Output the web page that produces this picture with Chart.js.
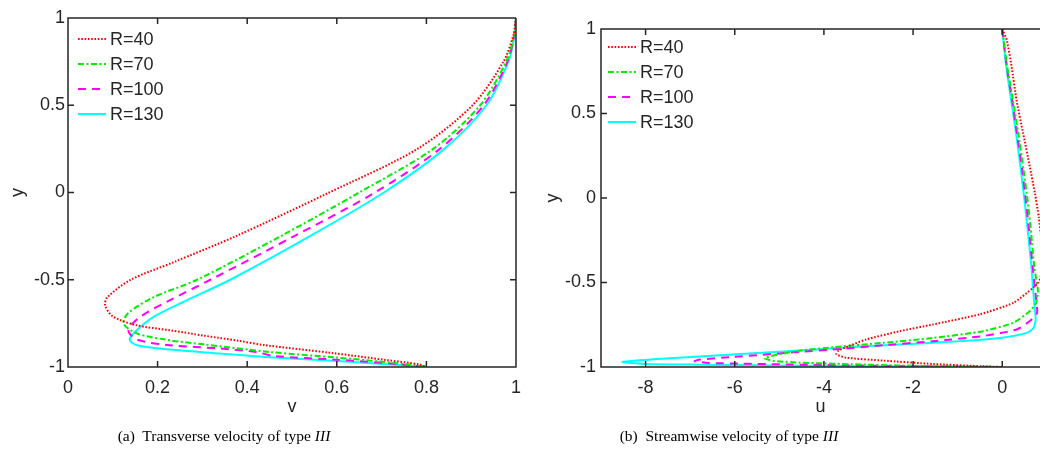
<!DOCTYPE html>
<html>
<head>
<meta charset="utf-8">
<script src="https://cdn.jsdelivr.net/npm/chart.js@4.4.1/dist/chart.umd.min.js"></script>
<style>
  body { margin: 0; background: #fff; width: 1040px; height: 463px; overflow: hidden; position: relative; }
  canvas { position: absolute; top: 0; }
  .cap { position: absolute; top: 427px; width: 440px; text-align: center; font-family: "Liberation Serif", "Times New Roman", serif; font-size: 15.5px; color: #000; white-space: pre; }
</style>
</head>
<body>
<canvas id="vchart" width="523" height="463" style="left:0"></canvas>
<canvas id="uchart" width="520" height="463" style="left:520px"></canvas>
<div class="cap" style="left:4px">(a)  Transverse velocity of type <i>III</i></div>
<div class="cap" style="left:509px">(b)  Streamwise velocity of type <i>III</i></div>
<script>
// series labels
const labels = ['R=40', 'R=70', 'R=100', 'R=130'];

// (a) transverse velocity v against y
const yR40a = [1, 0.9, 0.75, 0.5, 0.25, 0, -0.25, -0.4, -0.5, -0.6, -0.646, -0.71, -0.76, -0.79, -0.82, -0.85, -0.875, -0.92, -0.96, -0.985, -1];
const vR40 = [1, 0.994, 0.972, 0.903, 0.78, 0.583, 0.375, 0.235, 0.14, 0.088, 0.083, 0.1, 0.152, 0.228, 0.303, 0.38, 0.44, 0.59, 0.71, 0.785, 0.8];
const yR70a = [1, 0.9, 0.75, 0.5, 0.25, 0, -0.25, -0.5, -0.6, -0.69, -0.751, -0.808, -0.847, -0.87, -0.914, -0.946, -0.97, -0.99, -1];
const vR70 = [1, 0.996, 0.978, 0.92, 0.815, 0.65, 0.475, 0.288, 0.191, 0.135, 0.124, 0.154, 0.228, 0.303, 0.45, 0.6, 0.7, 0.775, 0.8];
const yR100a = [1, 0.9, 0.75, 0.5, 0.25, 0, -0.25, -0.5, -0.617, -0.713, -0.789, -0.843, -0.875, -0.894, -0.914, -0.937, -0.958, -0.98, -1];
const vR100 = [1, 0.996, 0.981, 0.928, 0.83, 0.685, 0.505, 0.318, 0.228, 0.161, 0.135, 0.154, 0.228, 0.34, 0.42, 0.46, 0.6, 0.72, 0.8];
const yR130a = [1, 0.9, 0.75, 0.5, 0.25, 0, -0.25, -0.5, -0.617, -0.713, -0.808, -0.847, -0.875, -0.9, -0.923, -0.943, -0.966, -0.985, -1];
const vR130 = [1, 0.997, 0.983, 0.934, 0.84, 0.705, 0.54, 0.362, 0.266, 0.191, 0.146, 0.138, 0.154, 0.228, 0.34, 0.44, 0.6, 0.72, 0.8];

// (b) streamwise velocity u against y
const yR40b = [1, 0.936, 0.778, 0.579, 0.382, 0.183, 0.025, -0.114, -0.25, -0.37, -0.47, -0.5, -0.53, -0.62, -0.688, -0.748, -0.788, -0.837, -0.877, -0.905, -0.925, -0.945, -0.962, -0.982, -0.996, -1];
const uR40 = [0, 0.1, 0.21, 0.32, 0.47, 0.62, 0.735, 0.82, 0.88, 0.9, 0.86, 0.81, 0.7, 0.25, -0.5, -1.55, -2.3, -3.05, -3.45, -3.68, -3.72, -3.5, -2.67, -1.55, -0.43, 0];
const yR70b = [1, 0.778, 0.58, 0.382, 0.183, -0.015, -0.213, -0.411, -0.55, -0.62, -0.669, -0.738, -0.788, -0.828, -0.857, -0.883, -0.904, -0.93, -0.948, -0.963, -0.974, -0.986, -0.995, -1];
const uR70 = [0, 0.11, 0.24, 0.36, 0.47, 0.57, 0.65, 0.72, 0.8, 0.76, 0.62, 0.25, -0.43, -1.55, -2.67, -3.8, -4.55, -5.1, -5.33, -5.15, -4.55, -3.05, -1.55, 0];
const yR100b = [1, 0.778, 0.58, 0.382, 0.183, -0.015, -0.213, -0.411, -0.6, -0.68, -0.728, -0.778, -0.817, -0.847, -0.871, -0.897, -0.911, -0.941, -0.956, -0.966, -0.976, -0.98, -0.986, -0.994, -1];
const uR100 = [0, 0.1, 0.22, 0.33, 0.44, 0.53, 0.61, 0.685, 0.76, 0.78, 0.62, 0.32, -0.43, -1.55, -2.67, -3.8, -4.55, -6.05, -6.79, -6.9, -6.57, -5.9, -4.55, -2.5, 0];
const yR130b = [1, 0.778, 0.58, 0.382, 0.183, -0.015, -0.213, -0.411, -0.6, -0.72, -0.77, -0.798, -0.828, -0.851, -0.867, -0.883, -0.903, -0.926, -0.95, -0.97, -0.982, -0.986, -0.992, -0.997, -1];
const uR130 = [0, 0.09, 0.2, 0.31, 0.41, 0.5, 0.58, 0.655, 0.71, 0.75, 0.7, 0.55, -0.05, -1.18, -2.3, -3.42, -4.55, -6.05, -7.54, -8.52, -7.99, -6.79, -4.55, -2.3, 0];

// tick labels
const vTicks = [0, 0.2, 0.4, 0.6, 0.8, 1];
const uTicks = [-8, -6, -4, -2, 0];
const yTicks = [-1, -0.5, 0, 0.5, 1];

const axisColor = '#262626';
const fontFamily = '"Liberation Sans", Arial, sans-serif';

const styles = [
  { color: '#ff0000', dash: [1.6, 1.7], width: 2 },
  { color: '#00ee00', dash: [6, 2.5, 2, 2.5], width: 2 },
  { color: '#ff00ff', dash: [8, 6], width: 2 },
  { color: '#00ffff', dash: [], width: 2 },
];

function toPoints(xs, ys) {
  return xs.map((x, i) => ({ x: x, y: ys[i] }));
}

function makeDatasets(series, tension) {
  return series.map((s, i) => ({
    label: labels[i],
    data: toPoints(s[0], s[1]),
    showLine: true,
    borderColor: styles[i].color,
    borderDash: styles[i].dash,
    borderWidth: styles[i].width,
    pointRadius: 0,
    tension: tension,
    fill: false,
  }));
}

// matlab-like box with inward ticks and a plain legend
const matlabBox = {
  id: 'matlabBox',
  afterDatasetsDraw(chart, args, opts) {
    const { ctx, chartArea: a, scales: { x, y } } = chart;
    const tl = 6;
    ctx.save();
    ctx.strokeStyle = axisColor;
    ctx.lineWidth = 1.5;
    ctx.setLineDash([]);
    ctx.beginPath();
    ctx.moveTo(a.right, a.top);
    ctx.lineTo(a.left, a.top);
    ctx.lineTo(a.left, a.bottom);
    ctx.lineTo(a.right, a.bottom);
    if (opts.rightEdge) ctx.lineTo(a.right, a.top);
    x.ticks.forEach(t => {
      const px = x.getPixelForValue(t.value);
      ctx.moveTo(px, a.bottom); ctx.lineTo(px, a.bottom - tl);
      ctx.moveTo(px, a.top); ctx.lineTo(px, a.top + tl);
    });
    y.ticks.forEach(t => {
      const py = y.getPixelForValue(t.value);
      ctx.moveTo(a.left, py); ctx.lineTo(a.left + tl, py);
      if (opts.rightEdge) { ctx.moveTo(a.right, py); ctx.lineTo(a.right - tl, py); }
    });
    ctx.stroke();

    // legend
    ctx.font = '18px ' + fontFamily;
    ctx.textBaseline = 'middle';
    ctx.fillStyle = axisColor;
    chart.data.datasets.forEach((ds, i) => {
      const ly = a.top + opts.legendTop + i * 25;
      const lx = a.left + opts.legendLeft;
      ctx.strokeStyle = ds.borderColor;
      ctx.lineWidth = ds.borderWidth;
      ctx.setLineDash(ds.borderDash);
      ctx.beginPath();
      ctx.moveTo(lx, ly);
      ctx.lineTo(lx + 28, ly);
      ctx.stroke();
      ctx.fillText(ds.label, lx + 32, ly + 1);
    });
    ctx.restore();
  }
};

function axisOpts(min, max, ticks, title, extra) {
  return Object.assign({
    type: 'linear',
    min: min,
    max: max,
    grid: { display: false },
    border: { display: false },
    afterBuildTicks: s => { s.ticks = ticks.map(v => ({ value: v })); },
    ticks: {
      color: axisColor,
      font: { family: fontFamily, size: 18 },
      callback: v => String(v),
    },
    title: {
      display: true,
      text: title,
      color: axisColor,
      font: { family: fontFamily, size: 18 },
    },
  }, extra);
}

function drawPanel(canvasId, series, xMin, xMax, xTicks, xTitle, cfg) {
  const xAxis = axisOpts(xMin, xMax, xTicks, xTitle, {
    afterFit: s => { s.height = cfg.xHeight; },
  });
  xAxis.ticks.padding = 2;
  xAxis.title.padding = { top: 0, bottom: 0 };
  const yAxis = axisOpts(-1, 1, yTicks, 'y', {
    afterFit: s => { s.width = cfg.yWidth; },
  });
  yAxis.grid = { display: false, drawTicks: false };
  yAxis.ticks.padding = cfg.yPad;
  yAxis.title.padding = { top: cfg.yTitlePad, bottom: 0 };

  return new Chart(document.getElementById(canvasId), {
    type: 'scatter',
    data: { datasets: makeDatasets(series, cfg.tension) },
    options: {
      responsive: false,
      animation: false,
      layout: { padding: cfg.padding },
      plugins: {
        legend: { display: false },
        tooltip: { enabled: false },
        matlabBox: { rightEdge: cfg.rightEdge, legendLeft: cfg.legendLeft, legendTop: cfg.legendTop },
      },
      scales: { x: xAxis, y: yAxis },
    },
    plugins: [matlabBox],
  });
}

drawPanel('vchart',
  [[vR40, yR40a], [vR70, yR70a], [vR100, yR100a], [vR130, yR130a]],
  0, 1, vTicks, 'v',
  { xHeight: 51, yWidth: 68, yPad: 3, yTitlePad: 7, tension: 0.3, rightEdge: true,
    padding: { top: 18, right: 4, bottom: 45, left: 0 }, legendLeft: 10, legendTop: 21 });

drawPanel('uchart',
  [[uR40, yR40b], [uR70, yR70b], [uR100, yR100b], [uR130, yR130b]],
  -9, 0.847, uTicks, 'u',
  { xHeight: 51, yWidth: 81, yPad: 5, yTitlePad: 22, tension: 0.2, rightEdge: false,
    padding: { top: 29, right: 0, bottom: 45, left: 0 }, legendLeft: 7, legendTop: 18 });
</script>
</body>
</html>
